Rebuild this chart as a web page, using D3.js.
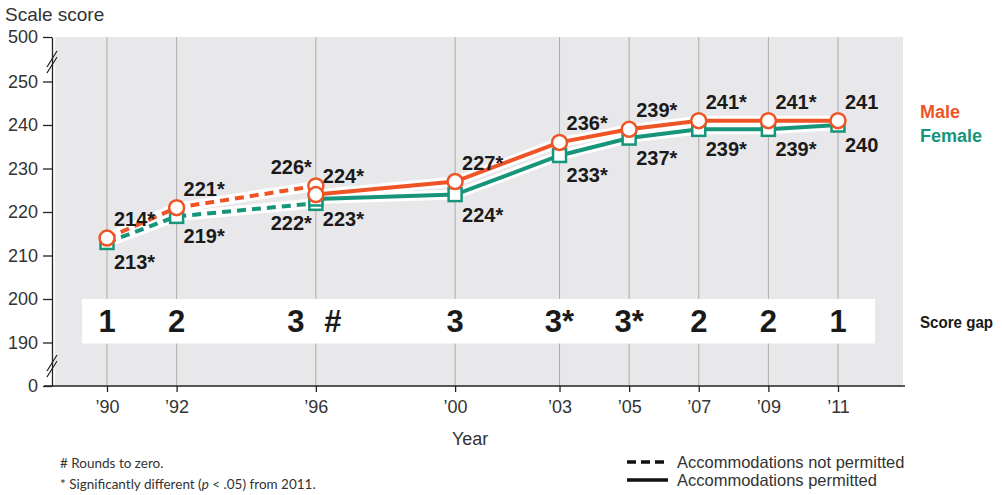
<!DOCTYPE html>
<html>
<head>
<meta charset="utf-8">
<script src="https://cdn.jsdelivr.net/npm/d3@7"></script>
<style>
  body { margin: 0; background: #fff; }
  svg { display: block; }
  .narrow { font-family: "Liberation Sans", Arial, sans-serif; }
</style>
</head>
<body>
<div id="chart"></div>
<script>
// DATA
const years = [1990, 1992, 1996, 1996, 2000, 2003, 2005, 2007, 2009, 2011];
const permitted = [false, false, false, true, true, true, true, true, true, true];
const maleScores = [214, 221, 226, 224, 227, 236, 239, 241, 241, 241];
const femaleScores = [213, 219, 222, 223, 224, 233, 237, 239, 239, 240];
const significant = [true, true, true, true, true, true, true, true, true, false];
const scoreGap = ["1", "2", "3", "#", "3", "3*", "3*", "2", "2", "1"];

const tickYears = [1990, 1992, 1996, 2000, 2003, 2005, 2007, 2009, 2011];
const tickLabels = ["’90", "’92", "’96", "’00", "’03", "’05", "’07", "’09", "’11"];
const yTicks = [0, 190, 200, 210, 220, 230, 240, 250, 500];

const maleColor = "#ee5426";
const femaleColor = "#16957b";

const width = 1002, height = 495;
const plot = { left: 52, right: 905, top: 37, bottom: 386 };

const svg = d3.select("#chart")
  .append("svg")
  .attr("width", width)
  .attr("height", height);

// SCALES (axis is broken: 0 and 500 are placed by hand)
const x = d3.scaleLinear().domain([1990, 2011]).range([107, 838]);
const y = d3.scaleLinear()
  .domain([0, 190, 250, 500])
  .range([plot.bottom, 342.5, 81.5, plot.top]);

// BACKGROUND
svg.append("rect")
  .attr("x", plot.left + 3)
  .attr("y", plot.top)
  .attr("width", plot.right - plot.left - 5)
  .attr("height", plot.bottom - plot.top)
  .attr("fill", "#e8e8ea");

// GRIDLINES
svg.append("g")
  .selectAll("line")
  .data(tickYears)
  .join("line")
  .attr("x1", d => x(d))
  .attr("x2", d => x(d))
  .attr("y1", plot.top)
  .attr("y2", plot.bottom)
  .attr("stroke", "#ababab")
  .attr("stroke-width", 1);

// SCORE GAP BAND
const bandTop = y(200), bandBottom = y(190) + 1;
svg.append("rect")
  .attr("x", 82)
  .attr("y", bandTop)
  .attr("width", 875 - 82)
  .attr("height", bandBottom - bandTop)
  .attr("fill", "#fff");

// points shared by two series at the same year get pushed left / right
const side = years.map((yr, i) => {
  if (years[i + 1] === yr) return -1;
  if (years[i - 1] === yr) return 1;
  return 0;
});

svg.append("g")
  .selectAll("text")
  .data(scoreGap)
  .join("text")
  .attr("class", "narrow")
  .attr("x", (d, i) => x(years[i]) + (side[i] < 0 ? -20 : side[i] > 0 ? 17 : 0))
  .attr("y", (bandTop + bandBottom) / 2 + 11)
  .attr("text-anchor", "middle")
  .attr("font-size", 31)
  .attr("font-weight", "bold")
  .attr("fill", "#1a1a1a")
  .text(d => d);

svg.append("text")
  .attr("class", "narrow")
  .attr("x", 920)
  .attr("y", 328)
  .attr("font-size", 16)
  .attr("font-weight", "bold")
  .attr("fill", "#1a1a1a")
  .attr("textLength", 73)
  .attr("lengthAdjust", "spacingAndGlyphs")
  .text("Score gap");

// AXES
const yAxis = svg.append("g")
  .attr("class", "narrow")
  .attr("transform", `translate(${plot.left},0)`)
  .call(d3.axisLeft(y).tickValues(yTicks).tickSize(9).tickSizeOuter(0).tickPadding(5));
yAxis.selectAll("text").attr("font-size", 18).attr("fill", "#333").attr("font-family", null);
yAxis.selectAll("line, path").attr("stroke", "#222").attr("stroke-width", 1.3);

// break marks
[62, 366].forEach(cy => {
  [-3, 3].forEach(off => {
    svg.append("line")
      .attr("x1", plot.left - 5).attr("y1", cy + 8 + off)
      .attr("x2", plot.left + 5).attr("y2", cy - 8 + off)
      .attr("stroke", "#222")
      .attr("stroke-width", 1.3);
  });
});

const xAxis = svg.append("g")
  .attr("class", "narrow")
  .attr("transform", `translate(0,${plot.bottom})`)
  .call(d3.axisBottom(x).tickValues(tickYears).tickFormat((d, i) => tickLabels[i]).tickSize(6).tickSizeOuter(0).tickPadding(8));
xAxis.select(".domain").remove();
xAxis.selectAll("text").attr("font-size", 18).attr("fill", "#333").attr("font-family", null);
xAxis.selectAll("line").attr("stroke", "#222").attr("stroke-width", 1.3);

svg.append("line")
  .attr("x1", plot.left - 8)
  .attr("x2", plot.right)
  .attr("y1", plot.bottom)
  .attr("y2", plot.bottom)
  .attr("stroke", "#222")
  .attr("stroke-width", 1.3);

svg.append("text")
  .attr("class", "narrow")
  .attr("x", 5)
  .attr("y", 21)
  .attr("font-size", 19)
  .attr("fill", "#333")
  .text("Scale score");

svg.append("text")
  .attr("class", "narrow")
  .attr("x", x(2000) + 15)
  .attr("y", 445)
  .attr("text-anchor", "middle")
  .attr("font-size", 18)
  .attr("fill", "#333")
  .text("Year");

// LINES
const series = [
  { name: "Female", scores: femaleScores, color: femaleColor },
  { name: "Male", scores: maleScores, color: maleColor }
];

const segments = [];
series.forEach(s => {
  [false, true].forEach(p => {
    const pts = years.map((yr, i) => ({ year: yr, score: s.scores[i], permitted: permitted[i] }))
      .filter(d => d.permitted === p);
    segments.push({ series: s, permitted: p, points: pts });
  });
});

const line = d3.line().x(d => x(d.year)).y(d => y(d.score));

svg.append("g")
  .selectAll("path")
  .data(segments)
  .join("path")
  .attr("d", d => line(d.points))
  .attr("fill", "none")
  .attr("stroke", "#fff")
  .attr("stroke-width", 10);

svg.append("g")
  .selectAll("path")
  .data(segments)
  .join("path")
  .attr("d", d => line(d.points))
  .attr("fill", "none")
  .attr("stroke", d => d.series.color)
  .attr("stroke-width", 4)
  .attr("stroke-dasharray", d => d.permitted ? null : "9,6");

// MARKERS
svg.append("g")
  .selectAll("rect")
  .data(femaleScores)
  .join("rect")
  .attr("x", (d, i) => x(years[i]) - 6.5)
  .attr("y", d => y(d) - 6.5)
  .attr("width", 13)
  .attr("height", 13)
  .attr("fill", "#fff")
  .attr("stroke", femaleColor)
  .attr("stroke-width", 2.5);

svg.append("g")
  .selectAll("circle")
  .data(maleScores)
  .join("circle")
  .attr("cx", (d, i) => x(years[i]))
  .attr("cy", d => y(d))
  .attr("r", 7.5)
  .attr("fill", "#fff")
  .attr("stroke", maleColor)
  .attr("stroke-width", 2.5);

// VALUE LABELS
function labelX(i) {
  return side[i] < 0 ? x(years[i]) - 4 : x(years[i]) + 7;
}

svg.append("g")
  .selectAll("text")
  .data(maleScores)
  .join("text")
  .attr("class", "narrow")
  .attr("x", (d, i) => labelX(i))
  .attr("y", d => y(d) - 12)
  .attr("text-anchor", (d, i) => side[i] < 0 ? "end" : "start")
  .attr("font-size", 20)
  .attr("font-weight", "bold")
  .attr("fill", "#1a1a1a")
  .text((d, i) => d + (significant[i] ? "*" : ""));

svg.append("g")
  .selectAll("text")
  .data(femaleScores)
  .join("text")
  .attr("class", "narrow")
  .attr("x", (d, i) => labelX(i))
  .attr("y", d => y(d) + 27)
  .attr("text-anchor", (d, i) => side[i] < 0 ? "end" : "start")
  .attr("font-size", 20)
  .attr("font-weight", "bold")
  .attr("fill", "#1a1a1a")
  .text((d, i) => d + (significant[i] ? "*" : ""));

// SERIES LEGEND
svg.append("text")
  .attr("class", "narrow")
  .attr("x", 920).attr("y", 118)
  .attr("font-size", 18).attr("font-weight", "bold")
  .attr("fill", maleColor)
  .text("Male");
svg.append("text")
  .attr("class", "narrow")
  .attr("x", 920).attr("y", 142)
  .attr("font-size", 18).attr("font-weight", "bold")
  .attr("fill", femaleColor)
  .text("Female");

// LINE STYLE LEGEND
const styles = [
  { label: "Accommodations not permitted", dash: "9,5", y: 462 },
  { label: "Accommodations permitted", dash: null, y: 480 }
];
const sl = svg.append("g").selectAll("g").data(styles).join("g");
sl.append("line")
  .attr("x1", 627).attr("x2", 668)
  .attr("y1", d => d.y).attr("y2", d => d.y)
  .attr("stroke", "#111")
  .attr("stroke-width", 3.5)
  .attr("stroke-dasharray", d => d.dash);
sl.append("text")
  .attr("class", "narrow")
  .attr("x", 677)
  .attr("y", d => d.y + 6)
  .attr("font-size", 16.5)
  .attr("fill", "#333")
  .text(d => d.label);

// FOOTNOTES
const notes = svg.append("g")
  .attr("font-family", "Lato, 'Open Sans', sans-serif")
  .attr("font-size", 13.5)
  .attr("fill", "#333");
notes.append("text").attr("x", 60).attr("y", 468).text("# Rounds to zero.");
const n2 = notes.append("text").attr("x", 60).attr("y", 489);
n2.append("tspan").text("* Significantly different (");
n2.append("tspan").attr("font-style", "italic").text("p");
n2.append("tspan").text(" < .05) from 2011.");
</script>
</body>
</html>
